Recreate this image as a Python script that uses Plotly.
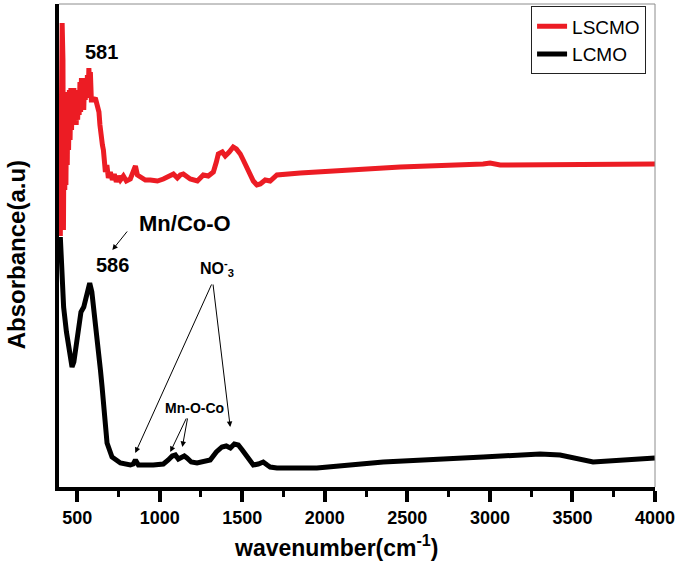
import plotly.graph_objects as go

# ---------------- data ----------------
lscmo_wn = [398, 404, 409, 414, 417, 421, 425, 429, 432, 436, 440, 444, 448, 453, 457, 462,
            466, 471, 476, 480, 484, 489, 494, 498, 503, 507, 512, 517, 521, 526, 530, 535,
            540, 544, 549, 553, 558, 562, 567, 571, 576, 580, 586, 598, 610, 622, 632, 638,
            644, 653, 659, 665, 671, 680, 689, 701, 713, 725, 737, 750, 762, 780, 798, 822,
            840, 853, 865, 883, 913, 943, 986, 1022, 1065, 1083, 1107, 1125, 1143, 1167, 1185,
            1228, 1246, 1264, 1294, 1325, 1343, 1355, 1379, 1397, 1421, 1445, 1464, 1488, 1506,
            1529, 1549, 1567, 1589, 1609, 1639, 1669, 1710, 1851, 2154, 2457, 2959, 3001, 3062,
            3425, 3668, 4000]
lscmo_abs = [2.51, 3.37, 4.64, 4.27, 2.57, 3.87, 2.97, 3.92, 3.02, 3.87, 3.22, 3.95, 3.37, 3.97,
             3.47, 3.99, 3.57, 3.95, 3.67, 3.99, 3.69, 3.87, 3.62, 3.82, 3.67, 3.97, 3.72, 4.05,
             3.75, 4.09, 3.82, 4.07, 3.77, 4.05, 3.87, 4.09, 3.89, 4.12, 3.92, 4.19, 3.97, 4.15,
             3.87, 3.87, 3.89, 3.79, 3.75, 3.62, 3.47, 3.42, 3.37, 3.27, 3.15, 3.22, 3.09, 3.15,
             3.07, 3.13, 3.05, 3.11, 3.07, 3.11, 3.06, 3.08, 3.14, 3.21, 3.12, 3.10, 3.07, 3.07,
             3.06, 3.08, 3.12, 3.13, 3.09, 3.12, 3.13, 3.10, 3.08, 3.06, 3.09, 3.12, 3.11, 3.15,
             3.25, 3.33, 3.35, 3.31, 3.35, 3.40, 3.38, 3.33, 3.27, 3.20, 3.13, 3.06, 3.02, 3.03,
             3.07, 3.06, 3.12, 3.14, 3.17, 3.20, 3.23, 3.24, 3.22, 3.22, 3.23, 3.23]

lcmo_wn = [398, 404, 418, 435, 449, 459, 469, 480, 489, 509, 523, 540, 559, 576, 589, 600, 621,
           641, 651, 665, 681, 711, 762, 822, 840, 853, 871, 961, 1022, 1052, 1076, 1095, 1113,
           1125, 1149, 1165, 1191, 1226, 1264, 1306, 1343, 1377, 1403, 1428, 1452, 1476, 1500,
           1529, 1567, 1597, 1627, 1651, 1669, 1710, 1952, 2354, 2657, 2959, 3304, 3425, 3625,
           3768, 4000]
lcmo_abs = [2.50, 2.22, 1.80, 1.55, 1.40, 1.27, 1.20, 1.25, 1.37, 1.64, 1.75, 1.80, 1.95, 2.04,
            1.95, 1.80, 1.47, 1.17, 1.00, 0.72, 0.44, 0.30, 0.24, 0.22, 0.23, 0.27, 0.22, 0.22,
            0.23, 0.27, 0.31, 0.32, 0.28, 0.29, 0.31, 0.29, 0.25, 0.24, 0.25, 0.27, 0.35, 0.40,
            0.41, 0.39, 0.43, 0.42, 0.37, 0.30, 0.22, 0.23, 0.25, 0.22, 0.20, 0.19, 0.19, 0.25,
            0.28, 0.30, 0.33, 0.32, 0.25, 0.27, 0.29]

x_ticks = [500, 1000, 1500, 2000, 2500, 3000, 3500, 4000]
x_range = [390, 4000]
y_range = [0, 4.83]

FONT = "Arial, 'Liberation Sans', sans-serif"
RED = "#ec1c24"

fig = go.Figure()
fig.add_trace(go.Scatter(x=lscmo_wn, y=lscmo_abs, mode="lines", name="LSCMO",
                         line=dict(color=RED, width=5)))
fig.add_trace(go.Scatter(x=lcmo_wn, y=lcmo_abs, mode="lines", name="LCMO",
                         line=dict(color="black", width=5)))

annotations = []


def txt(x, y, t, size, bold=True):
    annotations.append(dict(x=x, y=y, xref="x", yref="y", text=t, showarrow=False,
                            font=dict(family=FONT, size=size, color="black",
                                      weight="bold" if bold else "normal"),
                            xanchor="center", yanchor="middle"))


txt(647, 4.35, "581", 20)
txt(716, 2.225, "586", 20)
txt(1155, 2.635, "Mn/Co-O", 22)
txt(1350, 2.19, "NO<sup>-</sup><sub>3</sub>", 16)
txt(1210, 0.79, "Mn-O-Co", 14)

# arrows: (head x, head y, tail x, tail y)
arrows = [(713, 2.37, 810, 2.57),
          (852, 0.34, 1318, 2.04),
          (1427, 0.60, 1322, 2.04),
          (1064, 0.35, 1165, 0.70),
          (1137, 0.40, 1170, 0.70)]
for hx, hy, tx, ty in arrows:
    annotations.append(dict(x=hx, y=hy, ax=tx, ay=ty, xref="x", yref="y", axref="x", ayref="y",
                            text="", showarrow=True, arrowhead=2, arrowsize=1.1,
                            arrowwidth=1, arrowcolor="black", standoff=0, startstandoff=0))

# axis titles
annotations.append(dict(x=0.4656, y=-0.122, xref="paper", yref="paper",
                        text="wavenumber(cm<sup>-1</sup>)", showarrow=False,
                        font=dict(family=FONT, size=23, color="black", weight="bold"),
                        xanchor="center", yanchor="middle"))
annotations.append(dict(x=-0.072, y=0.48, xref="paper", yref="paper",
                        text="Absorbance(a.u)", showarrow=False, textangle=-90,
                        font=dict(family=FONT, size=24, color="black", weight="bold"),
                        xanchor="center", yanchor="middle"))

fig.update_layout(
    width=685, height=562,
    margin=dict(l=59, r=30, t=4, b=75),
    paper_bgcolor="white", plot_bgcolor="white",
    showlegend=True,
    legend=dict(x=0.985, y=0.995, xanchor="right", yanchor="top",
                bordercolor="#222", borderwidth=1, bgcolor="white",
                font=dict(family=FONT, size=19, color="black"),
                tracegroupgap=0, itemwidth=30),
    annotations=annotations,
    shapes=[
        dict(type="line", xref="paper", yref="paper", x0=0, x1=1, y0=1, y1=1,
             line=dict(color="#8c8c8c", width=1)),
        dict(type="line", xref="paper", yref="paper", x0=1, x1=1, y0=0, y1=1,
             line=dict(color="#8c8c8c", width=1)),
    ],
)
fig.update_xaxes(range=x_range, tickvals=x_ticks, showgrid=False, zeroline=False,
                 showline=True, linecolor="black", linewidth=4,
                 ticks="outside", ticklen=11, tickwidth=3.5, tickcolor="black",
                 minor=dict(dtick=250, tick0=0, ticks="outside", ticklen=6, tickwidth=3,
                            tickcolor="black", showgrid=False),
                 tickfont=dict(family=FONT, size=18, color="black", weight="bold"))
fig.update_yaxes(range=y_range, showgrid=False, zeroline=False, showticklabels=False,
                 ticks="", showline=True, linecolor="black", linewidth=4)

fig.write_html("out.html", config={"displayModeBar": False},
               post_script="document.body.style.margin='0';document.body.style.overflow='hidden';")
